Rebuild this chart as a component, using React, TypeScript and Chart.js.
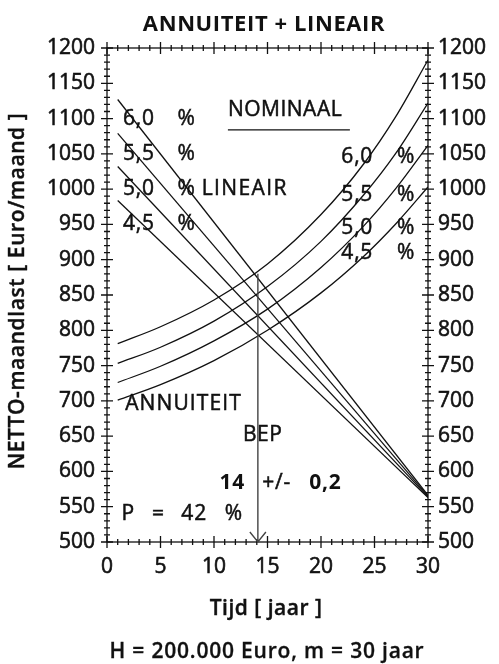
import React, { useEffect, useRef } from "react";
import { Chart, registerables } from "chart.js";

Chart.register(...registerables);

// ---- data ----
const annuityYears = [1, 5, 10, 15, 20, 24, 27, 30];
const annuity60 = [781, 805, 843, 894, 964, 1036, 1103, 1183];
const annuity55 = [753, 776, 813, 862, 926, 992, 1051, 1122];
const annuity50 = [726, 749, 785, 830, 889, 948, 1001, 1062];
const annuity45 = [701, 723, 757, 800, 853, 905, 951, 1003];

const linearYears = [1, 30];
const linear60 = [1127, 566];
const linear55 = [1079, 565];
const linear50 = [1032, 564];
const linear45 = [984, 563];

const xMin = 0;
const xMax = 30;
const xStep = 5;
const yMin = 500;
const yMax = 1200;
const yStep = 50;

const rateLabels = ["6,0", "5,5", "5,0", "4,5"];
const linearLabelRows = [1100, 1050, 1000, 950];
const annuityLabelRows = [1046, 991, 945, 909];

const bepYear = 14.1;
const bepTop = 880;

const titleText = "ANNUITEIT + LINEAIR";
const xTitleText = "Tijd [ jaar ]";
const yTitleText = "NETTO-maandlast [ Euro/maand ]";
const subtitleText = "H = 200.000 Euro, m = 30 jaar";

const INK = "#111";
const FONT = "'Open Sans', 'Noto Sans', sans-serif";

function pairs(xs: number[], ys: number[]) {
  return xs.map((x, i) => ({ x, y: ys[i] }));
}

const decor = {
  id: "decor",
  afterDraw(chart: any) {
    const { ctx, chartArea: a, scales } = chart;
    const xs = scales.x;
    const ys = scales.y;
    const X = (v: number) => xs.getPixelForValue(v);
    const Y = (v: number) => ys.getPixelForValue(v);
    ctx.save();
    ctx.strokeStyle = INK;
    ctx.lineWidth = 1.3;
    ctx.strokeRect(a.left, a.top, a.right - a.left, a.bottom - a.top);
    ctx.beginPath();
    for (let v = yMin; v <= yMax; v += 10) {
      const y = Y(v);
      const l = v % yStep === 0 ? 6 : 3;
      ctx.moveTo(a.left - l, y);
      ctx.lineTo(a.left + l, y);
      ctx.moveTo(a.right - l, y);
      ctx.lineTo(a.right + l, y);
    }
    for (let v = xMin; v <= xMax; v += 1) {
      const x = X(v);
      const l = v % xStep === 0 ? 6 : 3;
      ctx.moveTo(x, a.bottom - l);
      ctx.lineTo(x, a.bottom + l);
      ctx.moveTo(x, a.top - l);
      ctx.lineTo(x, a.top + l);
    }
    ctx.stroke();

    // BEP arrow
    const bx = X(bepYear);
    ctx.strokeStyle = "#444";
    ctx.lineWidth = 1.4;
    ctx.beginPath();
    ctx.moveTo(bx, Y(bepTop));
    ctx.lineTo(bx, a.bottom);
    ctx.moveTo(bx - 8, a.bottom - 10);
    ctx.lineTo(bx, a.bottom);
    ctx.lineTo(bx + 8, a.bottom - 10);
    ctx.stroke();

    // NOMINAAL underline
    ctx.strokeStyle = INK;
    ctx.lineWidth = 1.2;
    ctx.beginPath();
    ctx.moveTo(X(11.3), Y(1084));
    ctx.lineTo(X(22.7), Y(1084));
    ctx.stroke();

    const txt = (s: string, x: number, y: number, align: string, font: string, spacing = "0px", stroke = 0.5) => {
      ctx.font = font;
      ctx.textAlign = align;
      ctx.textBaseline = "middle";
      ctx.fillStyle = INK;
      ctx.strokeStyle = INK;
      ctx.letterSpacing = spacing;
      ctx.fillText(s, x, y);
      if (stroke > 0) {
        ctx.lineWidth = stroke;
        ctx.strokeText(s, x, y);
      }
      ctx.letterSpacing = "0px";
    };
    const reg = `21px ${FONT}`;
    const bold = `bold 21px ${FONT}`;
    const sp = "0.8px";

    rateLabels.forEach((s, i) => {
      txt(s, X(1.5), Y(linearLabelRows[i]), "left", reg, sp);
      txt("%", X(6.6), Y(linearLabelRows[i]), "left", reg);
      txt(s, X(21.9), Y(annuityLabelRows[i]), "left", reg, sp);
      txt("%", X(27.1), Y(annuityLabelRows[i]), "left", reg);
    });
    txt("LINEAIR", X(8.85), Y(1000), "left", reg, "1.4px");
    txt("NOMINAAL", X(11.3), Y(1112), "left", reg, "0.5px");
    txt("ANNUITEIT", X(1.7), Y(695), "left", reg, "1.1px");
    txt("BEP", X(12.7), Y(651), "left", reg, "0.6px");
    txt("14", X(12.9), Y(583), "right", bold, sp, 0);
    txt("+/-", X(14.5), Y(583), "left", reg, sp);
    txt("0,2", X(18.9), Y(583), "left", bold, sp, 0);
    txt("P", X(1.35), Y(540), "left", reg);
    txt("=", X(4.2), Y(540), "left", reg);
    txt("42", X(6.95), Y(540), "left", reg, sp);
    txt("%", X(11.0), Y(540), "left", reg);

    // titles
    txt(titleText, 264, 25, "center", `bold 22px ${FONT}`, "0.6px", 0);
    txt(xTitleText, 266, 609, "center", `600 21px ${FONT}`, "0.5px", 0.4);
    txt(subtitleText, 267, 652, "center", `600 21px ${FONT}`, "0.8px", 0.3);
    ctx.save();
    ctx.translate(18.5, 291);
    ctx.rotate(-Math.PI / 2);
    txt(yTitleText, 0, 0, "center", `600 21px ${FONT}`, "0.6px", 0.4);
    ctx.restore();

    ctx.restore();
  },
};

export default function App() {
  const ref = useRef<HTMLCanvasElement | null>(null);
  useEffect(() => {
    if (!ref.current) return;
    const line = (xs: number[], ys: number[], smooth: boolean) => ({
      data: pairs(xs, ys),
      borderColor: INK,
      borderWidth: 1.3,
      pointRadius: 0,
      fill: false,
      cubicInterpolationMode: smooth ? "monotone" : "default",
    });
    const tickFont = { family: FONT, size: 21 };
    const plain = (v: any) => String(v);
    const tickBase = { font: tickFont, color: INK, textStrokeColor: INK, textStrokeWidth: 0.6, callback: plain };
    const chart = new Chart(ref.current, {
      type: "line",
      data: {
        datasets: [
          line(annuityYears, annuity60, true),
          line(annuityYears, annuity55, true),
          line(annuityYears, annuity50, true),
          line(annuityYears, annuity45, true),
          line(linearYears, linear60, false),
          line(linearYears, linear55, false),
          line(linearYears, linear50, false),
          line(linearYears, linear45, false),
        ] as any,
      },
      options: {
        animation: false,
        responsive: true,
        maintainAspectRatio: false,
        layout: { padding: { top: 48, left: 0, right: 0, bottom: 0 } },
        plugins: { legend: { display: false }, tooltip: { enabled: false } },
        scales: {
          x: {
            type: "linear",
            min: xMin,
            max: xMax,
            grid: { display: false, drawTicks: false },
            border: { display: false },
            ticks: { ...tickBase, stepSize: xStep, padding: 12, maxRotation: 0 },
            afterFit: (s: any) => { s.height = 122; },
          },
          y: {
            type: "linear",
            position: "left",
            min: yMin,
            max: yMax,
            grid: { display: false, drawTicks: false },
            border: { display: false },
            ticks: { ...tickBase, stepSize: yStep, padding: 12 },
            afterFit: (s: any) => { s.width = 107; },
          },
          y2: {
            type: "linear",
            position: "right",
            min: yMin,
            max: yMax,
            grid: { display: false, drawTicks: false },
            border: { display: false },
            ticks: { ...tickBase, stepSize: yStep, padding: 10 },
            afterFit: (s: any) => { s.width = 71; },
          },
        },
      } as any,
      plugins: [decor],
    });
    return () => chart.destroy();
  }, []);
  return (
    <div style={{ position: "fixed", left: 0, top: 0, width: 499, height: 664, background: "#fff" }}>
      <canvas ref={ref} />
    </div>
  );
}
